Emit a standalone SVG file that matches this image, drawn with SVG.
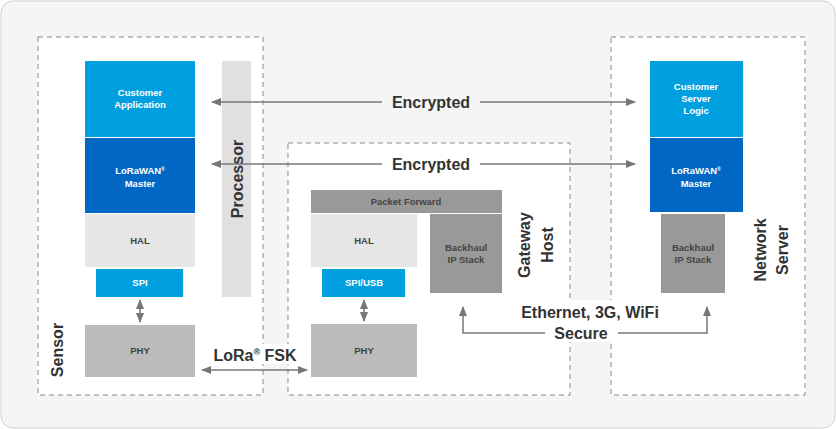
<svg xmlns="http://www.w3.org/2000/svg" width="836" height="429" viewBox="0 0 836 429">
<style>
text{font-family:"Liberation Sans",Arial,sans-serif;font-weight:bold;text-anchor:middle}
.panel{fill:#fff;stroke:#888;stroke-width:1;stroke-dasharray:5,4}
.s{font-size:9.5px;fill:#fff}
.d{font-size:9.5px;fill:#444}
.big{font-size:16px;fill:#333}
.lab{font-size:16px;fill:#333}
.c{fill:none;stroke:#777;stroke-width:1.5}
.bg{fill:#fff}
</style>
<defs>
<marker id="a" viewBox="0 0 10 10" refX="9" refY="5" markerWidth="7" markerHeight="7" orient="auto-start-reverse"><path d="M0,1 L10,5 L0,9 z" fill="#777"/></marker>
</defs>
<rect x="1" y="1" width="834" height="427" rx="12" fill="#f5f5f5" stroke="#d0d0d0"/>
<g id="sensor">
<rect class="panel" x="38" y="37" width="225" height="358"/>
<text class="lab" transform="translate(63,350) rotate(-90)">Sensor</text>
<rect x="222" y="61" width="29" height="236" fill="#e0e0e0"/>
<text class="lab" transform="translate(243,179) rotate(-90)">Processor</text>
<rect x="85" y="61" width="110" height="76" fill="#00a0e0"/>
<text class="s" x="140" y="96">Customer</text><text class="s" x="140" y="108">Application</text>
<rect x="85" y="138" width="110" height="75" fill="#0068c4"/>
<text class="s" x="140" y="174">LoRaWAN<tspan font-size="5" dy="-3">®</tspan></text><text class="s" x="140" y="187">Master</text>
<rect x="85" y="214" width="110" height="53" fill="#e6e6e6"/>
<text class="d" x="140" y="244">HAL</text>
<rect x="96" y="269" width="87" height="28" fill="#00a0e0"/>
<text class="s" x="140" y="286">SPI</text>
<rect x="85" y="325" width="110" height="52" fill="#bbb"/>
<text class="d" x="140" y="354">PHY</text>
</g>
<g id="gateway">
<rect class="panel" x="288" y="143" width="282" height="252"/>
<text class="lab" transform="translate(530,245) rotate(-90)">Gateway</text>
<text class="lab" transform="translate(553,245) rotate(-90)">Host</text>
<rect x="311" y="190" width="191" height="23" fill="#999"/>
<text class="d" x="406" y="205">Packet Forward</text>
<rect x="311" y="214" width="106" height="53" fill="#e6e6e6"/>
<text class="d" x="364" y="244">HAL</text>
<rect x="322" y="269" width="83" height="28" fill="#00a0e0"/>
<text class="s" x="364" y="286">SPI/USB</text>
<rect x="311" y="324" width="106" height="53" fill="#bbb"/>
<text class="d" x="364" y="354">PHY</text>
<rect x="430" y="214" width="72" height="79" fill="#999"/>
<text class="d" x="466" y="251">Backhaul</text><text class="d" x="466" y="263">IP Stack</text>
</g>
<g id="server">
<rect class="panel" x="611" y="37" width="194" height="358"/>
<text class="lab" transform="translate(766,250) rotate(-90)">Network</text>
<text class="lab" transform="translate(788,250) rotate(-90)">Server</text>
<rect x="650" y="61" width="93" height="76" fill="#00a0e0"/>
<text class="s" x="696" y="90">Customer</text><text class="s" x="696" y="102">Server</text><text class="s" x="696" y="114">Logic</text>
<rect x="650" y="138" width="93" height="74" fill="#0068c4"/>
<text class="s" x="696" y="174">LoRaWAN<tspan font-size="5" dy="-3">®</tspan></text><text class="s" x="696" y="187">Master</text>
<rect x="661" y="214" width="64" height="79" fill="#999"/>
<text class="d" x="693" y="251">Backhaul</text><text class="d" x="693" y="263">IP Stack</text>
</g>
<g id="connectors">
<path class="c" d="M212,102 H382" marker-start="url(#a)"/>
<path class="c" d="M480,102 H635" marker-end="url(#a)"/>
<text class="big" x="431" y="108">Encrypted</text>
<path class="c" d="M212,164 H382" marker-start="url(#a)"/>
<path class="c" d="M480,164 H635" marker-end="url(#a)"/>
<text class="big" x="431" y="170">Encrypted</text>
<path class="c" d="M140,300 V322" marker-start="url(#a)" marker-end="url(#a)"/>
<path class="c" d="M364,300 V321" marker-start="url(#a)" marker-end="url(#a)"/>
<rect class="bg" x="204" y="344" width="100" height="20"/>
<path class="c" d="M202,370 H307" marker-start="url(#a)" marker-end="url(#a)"/>
<text class="big" x="255" y="361">LoRa<tspan font-size="9" dy="-6">®</tspan><tspan dy="6"> FSK</tspan></text>
<rect class="bg" x="510" y="300" width="160" height="42"/>
<path class="c" d="M463,307 V333 H545" marker-start="url(#a)"/>
<path class="c" d="M618,333 H707 V307" marker-end="url(#a)"/>
<text class="big" x="590" y="318">Ethernet, 3G, WiFi</text>
<text class="big" x="581" y="339">Secure</text>
</g>
</svg>
